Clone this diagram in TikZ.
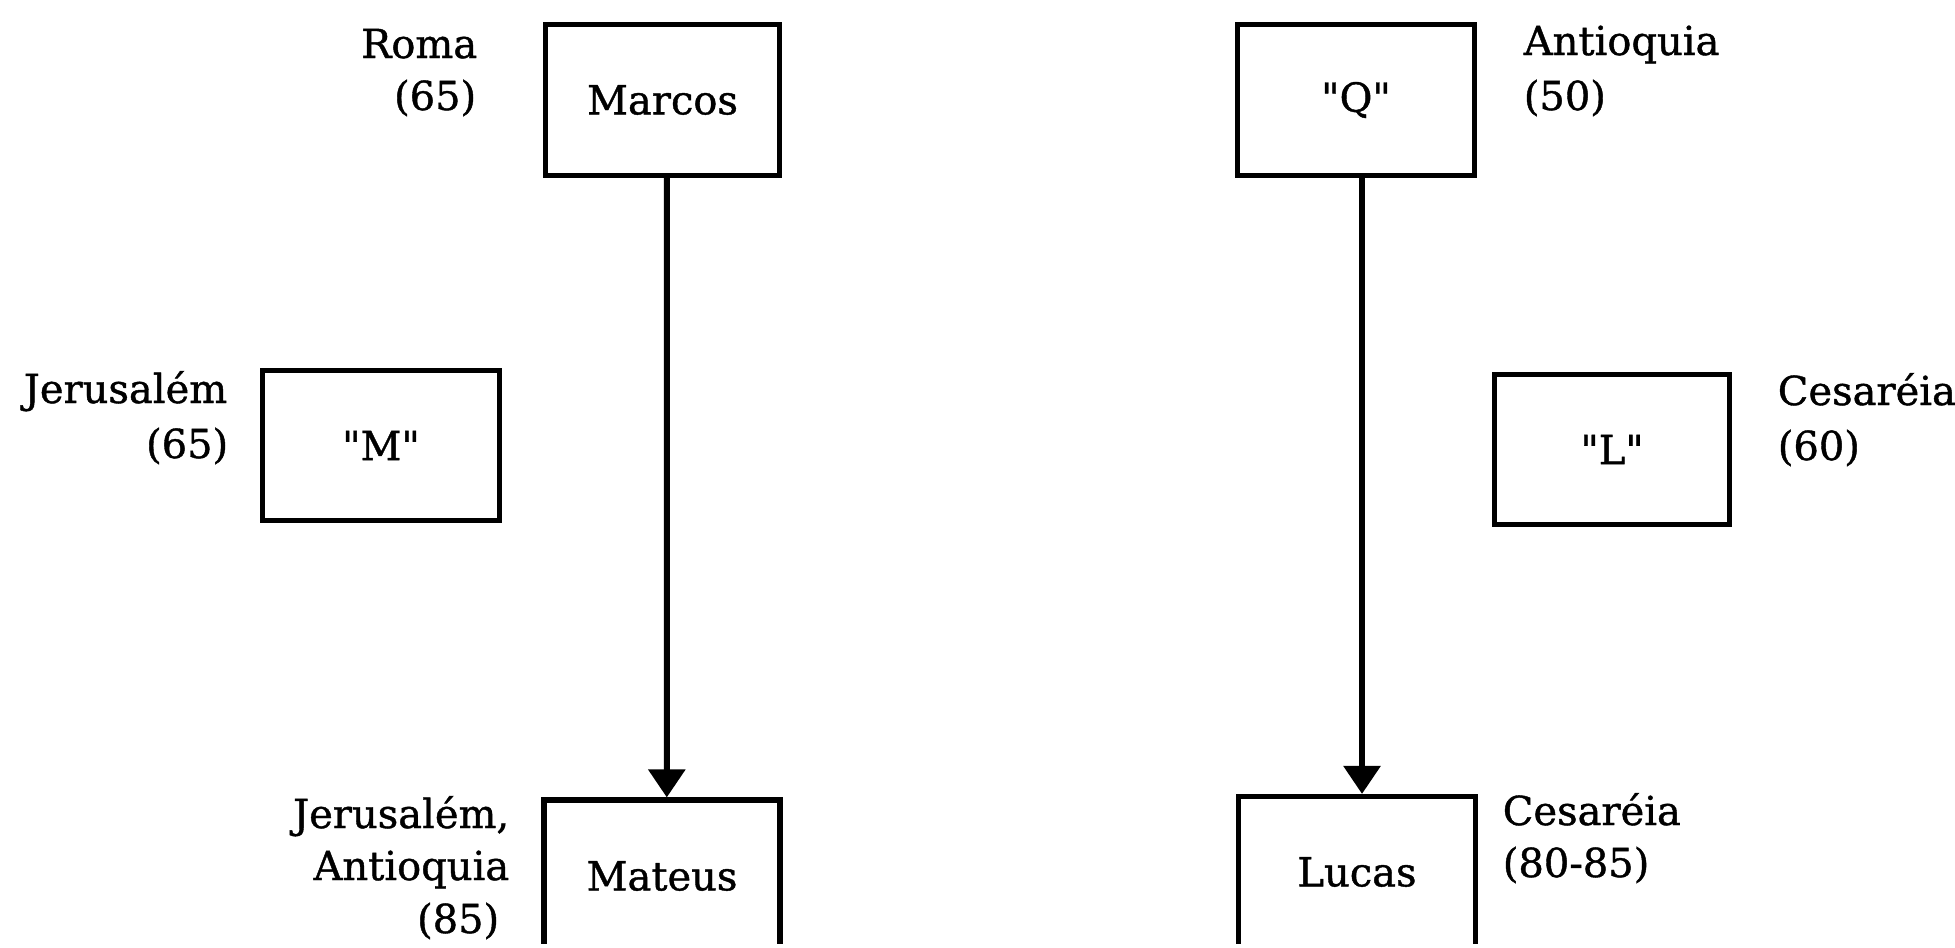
\documentclass[tikz,border=0pt]{standalone}
\usepackage{fontspec}
\setmainfont{DejaVu Serif}[FakeBold=1, Ligatures=TeXOff]
\usetikzlibrary{arrows.meta}
\begin{document}
\begin{tikzpicture}[x=0.25pt,y=-0.25pt,
  box/.style={draw, line width=1.3pt, inner sep=0pt, font=\fontsize{10}{13}\selectfont},
  lbl/.style={inner sep=0pt, font=\fontsize{10}{13}\selectfont},
  arr/.style={line width=1.5pt, -{Triangle[width=9pt,length=7pt]}}]
\useasboundingbox (0,0) rectangle (1955,947);
\clip (0,0) rectangle (1955,943);
% boxes
\node[box, minimum width=58.5pt, minimum height=37.75pt] (marcos) at (662.5,100) {Marcos};
\node[box, minimum width=59.25pt, minimum height=37.75pt] (q) at (1356,100) {"Q"};
\node[box, minimum width=59.25pt, minimum height=37.5pt] (m) at (381,445.5) {"M"};
\node[box, minimum width=58.75pt, minimum height=37.5pt] (l) at (1612,449.5) {"L"};
\node[box, minimum width=59pt, minimum height=38pt] (mateus) at (662,876) {Mateus};
\node[box, minimum width=59.25pt, minimum height=37.75pt] (lucas) at (1357,872) {Lucas};
% arrows
\draw[arr] ([xshift=1.1pt]marcos.south) -- ([xshift=1.2pt]mateus.north);
\draw[arr] ([xshift=1.5pt]q.south) -- ([xshift=1.25pt]lucas.north);
% labels
\node[lbl, anchor=base east] (roma) at (478,58) {Roma};
\node[lbl, anchor=base east] (roma65) at (477,110) {(65)};
\node[lbl, anchor=base east] (jer) at (228,403) {Jerusalém};
\node[lbl, anchor=base east] (jer65) at (229,458) {(65)};
\node[lbl, anchor=base east] (jer2) at (510,828) {Jerusalém,};
\node[lbl, anchor=base east] (ant2) at (510,880) {Antioquia};
\node[lbl, anchor=base east] (y85) at (500,933) {(85)};
\node[lbl, anchor=base west] (ant) at (1523,55) {Antioquia};
\node[lbl, anchor=base west] (y50) at (1523,110) {(50)};
\node[lbl, anchor=base west] (ces) at (1777,405) {Cesaréia};
\node[lbl, anchor=base west] (y60) at (1777,460) {(60)};
\node[lbl, anchor=base west] (ces2) at (1502,825) {Cesaréia};
\node[lbl, anchor=base west] (y8085) at (1502,877) {(80-85)};
\end{tikzpicture}
\end{document}
